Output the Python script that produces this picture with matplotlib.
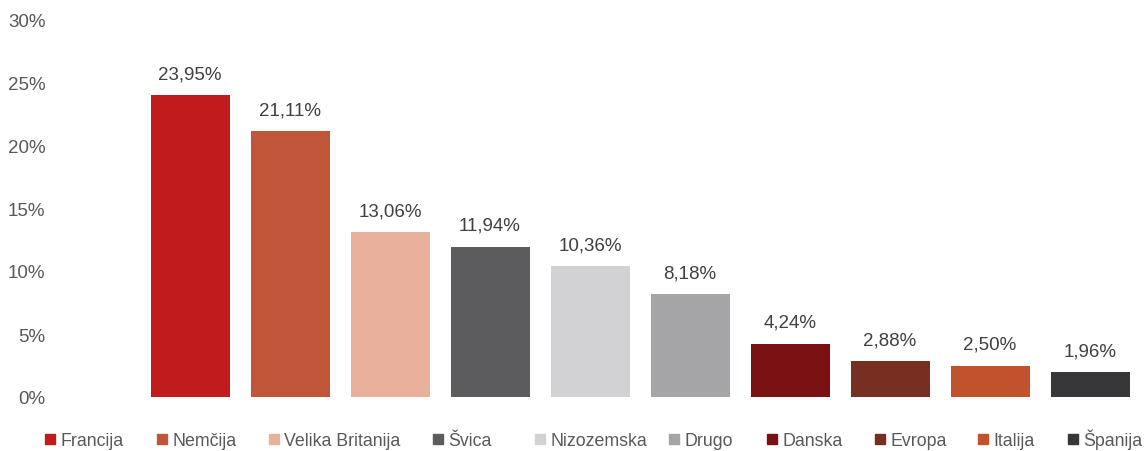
import matplotlib
matplotlib.use("Agg")
import matplotlib.pyplot as plt
from matplotlib.patches import Rectangle

plt.rcParams["font.family"] = ["Liberation Sans", "DejaVu Sans"]

countries = ["Francija", "Nemčija", "Velika Britanija", "Švica", "Nizozemska",
             "Drugo", "Danska", "Evropa", "Italija", "Španija"]
shares = [23.95, 21.11, 13.06, 11.94, 10.36, 8.18, 4.24, 2.88, 2.50, 1.96]
colors = ["#c01c1e", "#c1553a", "#e9b19b", "#5c5c5e", "#d2d2d4",
          "#a5a5a7", "#7a1213", "#772f22", "#c0532b", "#37373a"]
yticks = [0, 5, 10, 15, 20, 25, 30]

W, H = 1146, 452
fig = plt.figure(figsize=(W / 100, H / 100), dpi=100)
ax = fig.add_axes([140 / W, 54 / H, 1000 / W, 378 / H])

x = range(len(countries))
ax.bar(x, shares, width=0.79, color=colors)
for xi, v in zip(x, shares):
    ax.text(xi, v + 1.0, f"{v:.2f}%".replace(".", ","), ha="center", va="bottom",
            fontsize=13.5, color="#404040")

ax.set_xlim(-0.5, len(countries) - 0.5)
ax.set_ylim(0, 30)
ax.set_yticks(yticks)
ax.set_yticklabels([f"{t}%" for t in yticks], fontsize=13.5, color="#595959")
ax.tick_params(axis="y", length=0, pad=68)
ax.set_xticks([])
for sp in ax.spines.values():
    sp.set_visible(False)

# legend laid out by hand to follow the original spacing
leg_x = [45, 157, 269, 433, 535, 669, 767, 875, 978, 1068]
for px, c, n in zip(leg_x, colors, countries):
    fig.patches.append(Rectangle((px / W, 7 / H), 10 / W, 10 / H, color=c,
                                 transform=fig.transFigure, figure=fig))
    fig.text((px + 15) / W, 6 / H, n, fontsize=12.8, color="#595959",
             ha="left", va="baseline")

fig.savefig("out.png", dpi=100, facecolor="white")
